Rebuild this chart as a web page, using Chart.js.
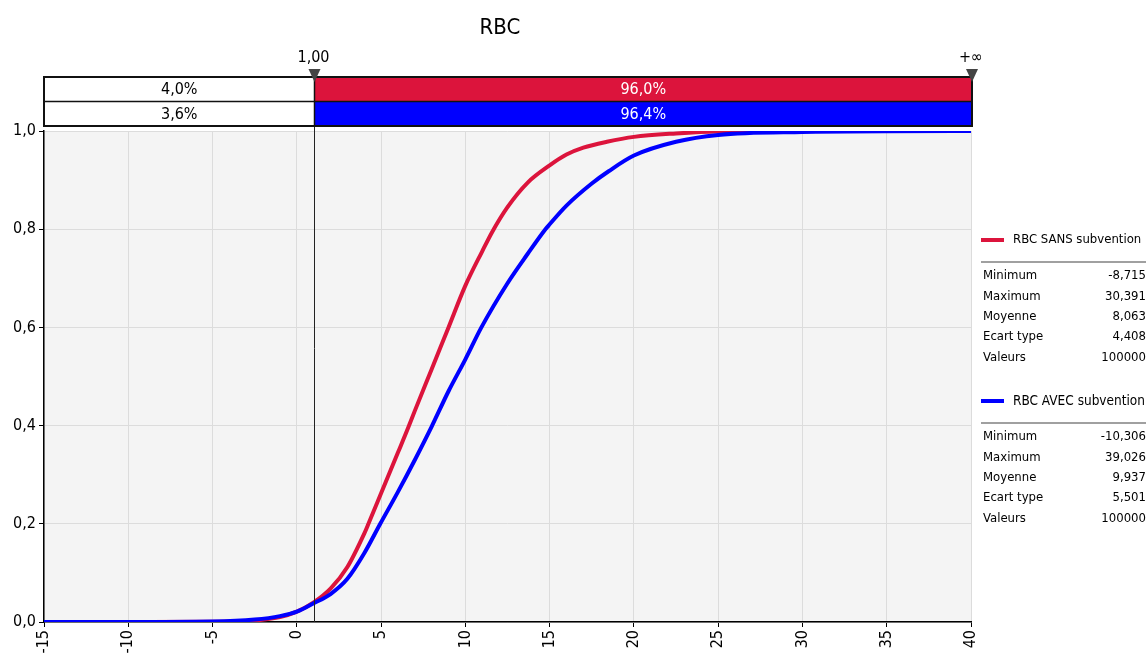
<!DOCTYPE html>
<html>
<head>
<meta charset="utf-8">
<script src="https://cdn.jsdelivr.net/npm/chart.js@4.4.1/dist/chart.umd.min.js"></script>
<style>
  html, body { margin: 0; padding: 0; background: #fff; }
  #wrap { width: 1148px; height: 664px; position: relative; }
</style>
</head>
<body>
<div id="wrap"><canvas id="myChart" width="1148" height="664"></canvas></div>
<script>
const FONT = "'DejaVu Sans Condensed', 'Liberation Sans', sans-serif";

const chartTitle = 'RBC';
const seriesNames = ['RBC SANS subvention', 'RBC AVEC subvention'];
const seriesColors = ['#dc143c', '#0000ff'];

// cumulative curves (x value, cumulative probability)
const sansX = [-15, -8.7, -5, -2.5, -1, 0, 1, 2, 3, 4, 4.25, 5, 6, 6.6, 7, 8, 9, 10, 11, 11.6, 12.5, 13.7, 15, 16, 17, 18.4, 20, 22.5, 25, 30.4, 40];
const sansY = [0, 0, 0.0005, 0.003, 0.01, 0.021, 0.04, 0.068, 0.112, 0.18, 0.2, 0.262, 0.345, 0.395, 0.43, 0.515, 0.6, 0.685, 0.755, 0.795, 0.845, 0.895, 0.93, 0.952, 0.966, 0.978, 0.988, 0.995, 0.999, 1, 1];
const avecX = [-15, -10.3, -5, -2.5, -1, 0, 1, 2, 3, 4, 4.95, 6, 7, 8, 9, 10, 10.95, 12.5, 13.7, 14.75, 15, 16, 17.5, 18.5, 20, 22.5, 25, 30, 39, 40];
const avecY = [0, 0, 0.001, 0.005, 0.012, 0.021, 0.038, 0.057, 0.088, 0.14, 0.2, 0.265, 0.33, 0.398, 0.47, 0.535, 0.6, 0.69, 0.75, 0.8, 0.81, 0.848, 0.893, 0.918, 0.95, 0.978, 0.992, 0.998, 1, 1];

// delimiter bars at the top
const delimiterValue = 1;
const delimiterLabels = ['1,00', '+\u221e'];
const leftPct = ['4,0%', '3,6%'];
const rightPct = ['96,0%', '96,4%'];

// statistics in the legend
const statLabels = ['Minimum', 'Maximum', 'Moyenne', 'Ecart type', 'Valeurs'];
const statsSans = ['-8,715', '30,391', '8,063', '4,408', '100000'];
const statsAvec = ['-10,306', '39,026', '9,937', '5,501', '100000'];
const allStats = [statsSans, statsAvec];

const toPoints = (xs, ys) => xs.map((x, i) => ({ x: x, y: ys[i] }));

const plotBg = {
    id: 'plotBg',
    beforeDraw(chart) {
        const { ctx, chartArea: a } = chart;
        ctx.save();
        ctx.fillStyle = '#f4f4f4';
        ctx.fillRect(a.left, a.top, a.right - a.left, a.bottom - a.top);
        ctx.restore();
    }
};

const extras = {
    id: 'extras',
    afterDraw(chart) {
        const { ctx, chartArea: a } = chart;
        const xs = chart.scales.x;
        const xd = Math.round(xs.getPixelForValue(delimiterValue)) + 0.5;
        const left = a.left, right = a.right + 1;
        const rowTop = 77, rowH = 24.5;
        ctx.save();

        // title
        ctx.fillStyle = '#000';
        ctx.font = '22px ' + FONT;
        ctx.textAlign = 'center';
        ctx.textBaseline = 'middle';
        ctx.fillText(chartTitle, 500, 28);

        // vertical delimiter line
        ctx.strokeStyle = '#222';
        ctx.lineWidth = 1;
        ctx.beginPath();
        ctx.moveTo(xd, 75);
        ctx.lineTo(xd, a.bottom);
        ctx.stroke();

        // bars
        for (let i = 0; i < 2; i++) {
            const y = rowTop + i * rowH;
            ctx.fillStyle = '#fff';
            ctx.fillRect(left, y, xd - left, rowH);
            ctx.fillStyle = seriesColors[i];
            ctx.fillRect(xd, y, right - xd, rowH);
            ctx.font = '16px ' + FONT;
            ctx.textAlign = 'center';
            ctx.textBaseline = 'middle';
            ctx.fillStyle = '#000';
            ctx.fillText(leftPct[i], (left + xd) / 2, y + rowH / 2 + 1);
            ctx.fillStyle = '#fff';
            ctx.fillText(rightPct[i], (xd + right) / 2, y + rowH / 2 + 1);
        }
        ctx.strokeStyle = '#111';
        ctx.lineWidth = 2;
        ctx.strokeRect(left, rowTop, right - left, rowH * 2);
        ctx.lineWidth = 1.5;
        ctx.beginPath();
        ctx.moveTo(left, rowTop + rowH);
        ctx.lineTo(right, rowTop + rowH);
        ctx.moveTo(xd, rowTop);
        ctx.lineTo(xd, rowTop + rowH * 2);
        ctx.stroke();

        // markers
        [xd, right].forEach((mx, i) => {
            ctx.fillStyle = '#444';
            ctx.beginPath();
            ctx.moveTo(mx - 6, 69);
            ctx.lineTo(mx + 6, 69);
            ctx.lineTo(mx, 82);
            ctx.closePath();
            ctx.fill();
            ctx.fillStyle = '#000';
            ctx.font = '16px ' + FONT;
            ctx.textAlign = 'center';
            ctx.textBaseline = 'middle';
            ctx.fillText(delimiterLabels[i], mx - 1, 58);
        });

        // legend with statistics
        for (let s = 0; s < 2; s++) {
            const y0 = 240 + s * 161;
            ctx.strokeStyle = seriesColors[s];
            ctx.lineWidth = 4;
            ctx.beginPath();
            ctx.moveTo(981, y0);
            ctx.lineTo(1004, y0);
            ctx.stroke();
            ctx.fillStyle = '#000';
            // shrink the header until it fits in the panel
            let fs = 14;
            ctx.font = fs + 'px ' + FONT;
            while (ctx.measureText(seriesNames[s]).width > 133 && fs > 9) {
                fs -= 0.5;
                ctx.font = fs + 'px ' + FONT;
            }
            ctx.textAlign = 'left';
            ctx.textBaseline = 'middle';
            ctx.fillText(seriesNames[s], 1013, y0);
            ctx.strokeStyle = '#a0a0a0';
            ctx.lineWidth = 2;
            ctx.beginPath();
            ctx.moveTo(981, y0 + 22);
            ctx.lineTo(1146, y0 + 22);
            ctx.stroke();
            ctx.font = '13px ' + FONT;
            statLabels.forEach((lab, k) => {
                const yy = y0 + 36 + k * 20.3;
                ctx.textAlign = 'left';
                ctx.fillText(lab, 983, yy);
                ctx.textAlign = 'right';
                ctx.fillText(allStats[s][k], 1146, yy);
            });
        }
        ctx.restore();
    }
};

const ctx = document.getElementById('myChart').getContext('2d');
const myChart = new Chart(ctx, {
    type: 'line',
    data: {
        datasets: [{
            label: seriesNames[0],
            data: toPoints(sansX, sansY),
            borderColor: seriesColors[0],
            borderWidth: 4,
            pointRadius: 0,
            cubicInterpolationMode: 'monotone',
            order: 1
        }, {
            label: seriesNames[1],
            data: toPoints(avecX, avecY),
            borderColor: seriesColors[1],
            borderWidth: 4,
            pointRadius: 0,
            cubicInterpolationMode: 'monotone',
            order: 0
        }]
    },
    options: {
        responsive: false,
        animation: false,
        devicePixelRatio: 1,
        layout: { padding: { top: 131, right: 177, left: 0, bottom: 0 } },
        plugins: {
            legend: { display: false },
            title: { display: false },
            tooltip: { enabled: false }
        },
        scales: {
            x: {
                type: 'linear',
                min: -15,
                max: 40,
                afterFit: (scale) => { scale.height = 42; },
                border: { color: '#000', width: 1.5 },
                grid: { color: '#dcdcdc', tickColor: '#000', tickLength: 5 },
                ticks: {
                    stepSize: 5,
                    minRotation: 90,
                    maxRotation: 90,
                    padding: 3,
                    color: '#000',
                    font: { family: FONT, size: 16 }
                }
            },
            y: {
                min: 0,
                max: 1,
                afterFit: (scale) => { scale.width = 44; },
                border: { color: '#000', width: 1.5 },
                grid: { color: '#dcdcdc', tickColor: '#000', tickLength: 5 },
                ticks: {
                    stepSize: 0.2,
                    padding: 3,
                    color: '#000',
                    font: { family: FONT, size: 16 },
                    callback: (v) => v.toFixed(1).replace('.', ',')
                }
            }
        }
    },
    plugins: [plotBg, extras]
});
</script>
</body>
</html>
